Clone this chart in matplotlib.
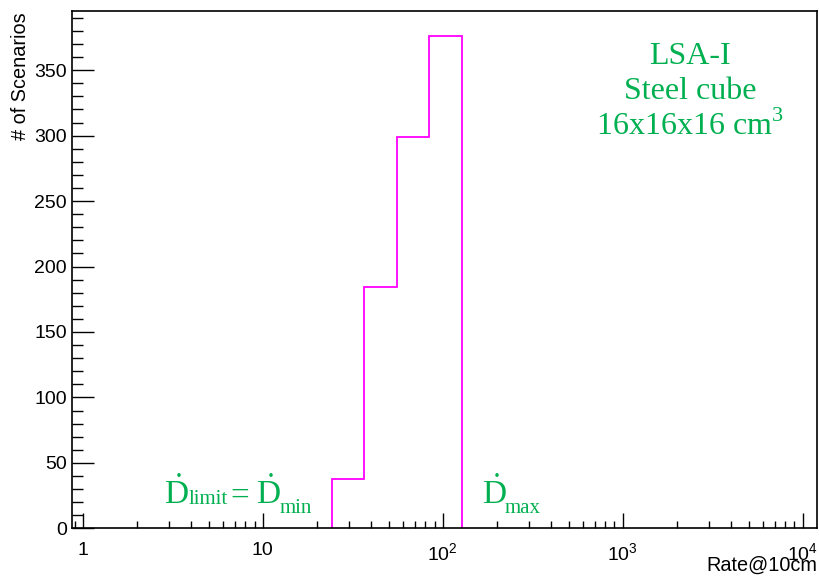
import numpy as np
import matplotlib
matplotlib.use('Agg')
import matplotlib.pyplot as plt
from matplotlib.ticker import AutoMinorLocator, LogLocator, FixedLocator, FixedFormatter

plt.rcParams['font.family'] = ['Liberation Sans', 'DejaVu Sans']
plt.rcParams['mathtext.fontset'] = 'custom'
plt.rcParams['mathtext.rm'] = 'Liberation Serif'
plt.rcParams['mathtext.sf'] = 'Liberation Sans'

# histogram (log-spaced bins)
bin_edges = [24.2, 36.7, 55.5, 84.2, 128.5]
counts = [38, 184, 299, 376]

x_range = (0.875, 12060)
y_max = 395

x_major = [1, 10, 100, 1000, 10000]
x_labels = ['1', '10', r'$\mathsf{10^{2}}$', r'$\mathsf{10^{3}}$', r'$\mathsf{10^{4}}$']

green = '#00b050'
W, H = 819, 576


def px(x, y):
    # pixel position (from top-left) -> figure fraction
    return x / W, 1 - y / H


fig = plt.figure(figsize=(W / 100, H / 100), dpi=100)
ax = fig.add_axes([0.0883, 0.0828, 0.9097, 0.8976])

ax.stairs(counts, bin_edges, baseline=0, color='#ff00ff', lw=1.3)

ax.set_xscale('log')
ax.set_xlim(*x_range)
ax.set_ylim(0, y_max)

ax.xaxis.set_major_locator(FixedLocator(x_major))
ax.xaxis.set_major_formatter(FixedFormatter(x_labels))
ax.xaxis.set_minor_locator(LogLocator(base=10, subs=np.arange(2, 10)))
ax.xaxis.set_minor_formatter(plt.NullFormatter())
ax.set_yticks(np.arange(0, 351, 50))
ax.yaxis.set_minor_locator(AutoMinorLocator(5))

ax.tick_params(axis='x', which='major', direction='in', length=11, width=1, labelsize=14, pad=10, top=False)
ax.tick_params(axis='x', which='minor', direction='in', length=5, width=1, top=False)
ax.tick_params(axis='y', which='major', direction='in', length=16, width=1, labelsize=14, pad=4, right=False)
ax.tick_params(axis='y', which='minor', direction='in', length=8, width=1, right=False)
for s in ax.spines.values():
    s.set_linewidth(1.2)

fig.text(*px(21, 12), '# of Scenarios', rotation=90, ha='center', va='top', fontsize=14.3)
fig.text(*px(817, 565), 'Rate@10cm', ha='right', va='center', fontsize=14.3)

# labels in the plot
ax.text(0.829, 0.8975, 'LSA-I', transform=ax.transAxes, ha='center', va='baseline',
        color=green, fontsize=23, family='Liberation Serif')
ax.text(0.829, 0.831, 'Steel cube', transform=ax.transAxes, ha='center', va='baseline',
        color=green, fontsize=23, family='Liberation Serif')
ax.text(0.829, 0.7607, r'16x16x16 cm$^{3}$', transform=ax.transAxes, ha='center', va='baseline',
        color=green, fontsize=23, family='Liberation Serif')

ddot = r'$\dot{\mathrm{D}}$'
pieces = [
    (164, 504.5, ddot, 24),
    (189, 504.5, 'limit', 15),
    (230.5, 504.5, '=', 24),
    (255.5, 504.5, ddot, 24),
    (280, 513, 'min', 15),
    (482, 504.5, ddot, 24),
    (505, 513, 'max', 15),
]
for x, y, s, fs in pieces:
    fig.text(*px(x, y), s, ha='left', va='baseline', color=green, fontsize=fs,
             family='Liberation Serif')

fig.savefig('out.png', dpi=100)
